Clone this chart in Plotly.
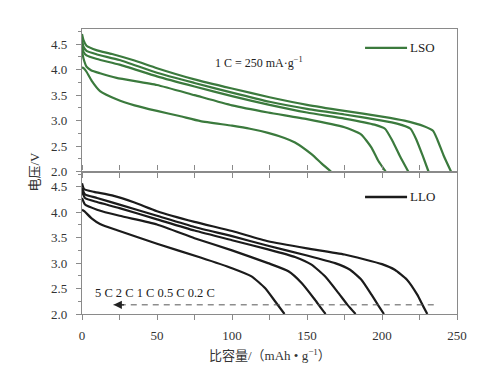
import plotly.graph_objects as go
from plotly.subplots import make_subplots

# ---------------- data ----------------
rates = ["0.2 C", "0.5 C", "1 C", "2 C", "5 C"]

# LSO (top panel)
lso_02_x = [0, 1, 3, 10, 20, 35, 50, 75, 100, 125, 150, 175, 200, 215, 228, 234, 237, 241, 246]
lso_02_v = [4.70, 4.58, 4.47, 4.38, 4.31, 4.18, 4.03, 3.81, 3.63, 3.46, 3.31, 3.19, 3.08, 3.00, 2.89, 2.80, 2.62, 2.32, 2.00]
lso_05_x = [0, 1, 3, 10, 25, 50, 75, 100, 125, 150, 175, 200, 210, 219, 223, 227, 231]
lso_05_v = [4.60, 4.45, 4.37, 4.30, 4.19, 3.94, 3.74, 3.55, 3.37, 3.23, 3.12, 3.00, 2.94, 2.84, 2.62, 2.32, 2.00]
lso_1_x = [0, 1, 3, 10, 25, 50, 75, 100, 125, 150, 175, 195, 202, 207, 212, 217.5]
lso_1_v = [4.50, 4.35, 4.28, 4.21, 4.10, 3.87, 3.67, 3.48, 3.31, 3.16, 3.04, 2.92, 2.84, 2.60, 2.30, 2.00]
lso_2_x = [0, 1, 3, 6, 12, 23, 50, 75, 100, 124, 150, 175, 186, 193, 197.5, 202.4]
lso_2_v = [4.37, 4.22, 4.06, 3.99, 3.93, 3.84, 3.70, 3.50, 3.30, 3.16, 3.03, 2.87, 2.73, 2.47, 2.21, 2.00]
lso_5_x = [0, 1.5, 3, 6.5, 12, 23, 35, 50, 65, 79, 100, 112, 124, 135, 142, 153, 160, 166]
lso_5_v = [4.05, 4.02, 3.96, 3.78, 3.58, 3.42, 3.30, 3.19, 3.09, 2.99, 2.90, 2.84, 2.76, 2.66, 2.57, 2.34, 2.15, 2.00]

# LLO (bottom panel)
llo_02_x = [0, 1.5, 8, 20, 35, 50, 75, 100, 124, 150, 175, 200, 208.5, 216.5, 223.5, 227.5, 230.2]
llo_02_v = [4.57, 4.45, 4.40, 4.33, 4.19, 4.02, 3.81, 3.63, 3.43, 3.29, 3.17, 2.98, 2.87, 2.68, 2.38, 2.15, 2.00]
llo_05_x = [0, 2, 10, 25, 50, 75, 100, 124, 150, 168.7, 178.7, 186.4, 193, 197.5, 201.3]
llo_05_v = [4.48, 4.35, 4.28, 4.15, 3.93, 3.71, 3.53, 3.34, 3.15, 3.00, 2.87, 2.67, 2.38, 2.17, 2.00]
llo_1_x = [0, 2, 10, 25, 50, 75, 100, 124, 142, 153, 162, 171, 177, 182.4]
llo_1_v = [4.41, 4.28, 4.20, 4.08, 3.86, 3.64, 3.45, 3.27, 3.12, 2.97, 2.74, 2.41, 2.18, 2.00]
llo_2_x = [0, 2, 10, 25, 50, 75, 100, 124, 137.6, 146.4, 155.3, 159, 162.4]
llo_2_v = [4.28, 4.15, 4.05, 3.93, 3.76, 3.49, 3.25, 3.00, 2.84, 2.61, 2.28, 2.13, 2.00]
llo_5_x = [0, 1.5, 6.4, 12, 23, 50, 79, 100, 113, 122, 128.7, 135]
llo_5_v = [4.05, 4.02, 3.88, 3.77, 3.65, 3.38, 3.11, 2.90, 2.74, 2.51, 2.25, 2.00]

x_tickvals = [0, 50, 100, 150, 200, 250]
x_ticktext = ["0", "50", "100", "150", "200", "250"]
x_minor = [25, 75, 125, 175, 225]
y_tickvals = [2.0, 2.5, 3.0, 3.5, 4.0, 4.5]
y_ticktext = ["2.0", "2.5", "3.0", "3.5", "4.0", "4.5"]
y_minor = [2.25, 2.75, 3.25, 3.75, 4.25, 4.75]

rate_label = "5 C 2 C 1 C 0.5 C 0.2 C"
arrow_x = [234.5, 21]
arrow_v = 2.18

GREEN = "#3b7a3d"
BLACK = "#1b1b1b"
AXIS = "#8a8a8a"
FONT = "Liberation Serif, Times New Roman, Noto Sans CJK SC, serif"

fig = make_subplots(rows=2, cols=1, shared_xaxes=False, vertical_spacing=0)

for xs, vs in [(lso_02_x, lso_02_v), (lso_05_x, lso_05_v), (lso_1_x, lso_1_v),
               (lso_2_x, lso_2_v), (lso_5_x, lso_5_v)]:
    fig.add_trace(go.Scatter(x=xs, y=vs, mode="lines", showlegend=False,
                             line=dict(color=GREEN, width=2.2, shape="spline", smoothing=0.5)),
                  row=1, col=1)
for xs, vs in [(llo_02_x, llo_02_v), (llo_05_x, llo_05_v), (llo_1_x, llo_1_v),
               (llo_2_x, llo_2_v), (llo_5_x, llo_5_v)]:
    fig.add_trace(go.Scatter(x=xs, y=vs, mode="lines", showlegend=False,
                             line=dict(color=BLACK, width=2.2, shape="spline", smoothing=0.5)),
                  row=2, col=1)

# dashed arrow line (bottom panel)
fig.add_trace(go.Scatter(x=arrow_x, y=[arrow_v, arrow_v], mode="lines", showlegend=False,
                         line=dict(color="#555555", width=1, dash="6px,5px")), row=2, col=1)
fig.add_annotation(x=arrow_x[1], y=arrow_v, ax=arrow_x[1] + 8, ay=arrow_v, xref="x2", yref="y2",
                   axref="x2", ayref="y2", showarrow=True, arrowhead=2, arrowsize=1.4,
                   arrowwidth=1.2, arrowcolor="#222222", text="")

# legend-like marks
fig.add_shape(type="line", xref="x", yref="y", x0=188.7, x1=216.7, y0=4.43, y1=4.43,
              line=dict(color=GREEN, width=2.4))
fig.add_annotation(x=217, y=4.43, xref="x", yref="y", text="LSO", showarrow=False,
                   xanchor="left", font=dict(size=13, color="#222222", family=FONT))
fig.add_shape(type="line", xref="x2", yref="y2", x0=188.7, x1=216.7, y0=4.30, y1=4.30,
              line=dict(color=BLACK, width=2.4))
fig.add_annotation(x=217, y=4.30, xref="x2", yref="y2", text="LLO", showarrow=False,
                   xanchor="left", font=dict(size=13, color="#222222", family=FONT))

fig.add_annotation(x=87, y=4.15, xref="x", yref="y", text="1 C = 250 mA·g<sup>−1</sup>",
                   showarrow=False, xanchor="left", font=dict(size=12, color="#222222", family=FONT))
fig.add_annotation(x=7.5, y=2.41, xref="x2", yref="y2", text=rate_label,
                   showarrow=False, xanchor="left", font=dict(size=12.5, color="#222222", family=FONT))

fig.add_annotation(x=0.5, y=-0.144, xref="paper", yref="paper",
                   text="比容量/（mAh • g<sup>−1</sup>）", showarrow=False,
                   yanchor="middle", font=dict(size=13, color="#333333", family=FONT))
fig.add_annotation(x=-0.128, y=0.5, xref="paper", yref="paper", text="电压/V",
                   textangle=-90, showarrow=False, xanchor="center", yanchor="middle",
                   font=dict(size=13, color="#333333", family=FONT))

xcommon = dict(range=[0, 250], tickvals=x_tickvals, ticktext=x_ticktext, showline=True,
               linecolor=AXIS, linewidth=1.2, ticks="outside", ticklen=5, tickcolor=AXIS,
               tickwidth=1, showgrid=False, zeroline=False,
               minor=dict(tickvals=x_minor, ticks="outside", ticklen=5, tickcolor=AXIS,
                          showgrid=False),
               tickfont=dict(size=13, color="#333333", family=FONT))
fig.update_xaxes(**xcommon, mirror=True, showticklabels=False, row=1, col=1)
fig.update_xaxes(**xcommon, mirror="ticks", showticklabels=True, ticklabelstandoff=4, row=2, col=1)

ycommon = dict(range=[2.0, 4.8], tickvals=y_tickvals, ticktext=y_ticktext, showline=True,
               linecolor=AXIS, linewidth=1.2, ticks="outside", ticklen=5, tickcolor=AXIS,
               tickwidth=1, mirror=True, showgrid=False, zeroline=False,
               minor=dict(tickvals=y_minor, ticks="outside",
                          ticklen=3, tickcolor=AXIS, showgrid=False),
               ticklabelstandoff=6,
               tickfont=dict(size=13, color="#333333", family=FONT))
fig.update_yaxes(**ycommon, row=1, col=1)
fig.update_yaxes(**ycommon, row=2, col=1)

# page body adds an 8px offset at top-left; plot area ends up at x 82-457, y 29-314
fig.update_layout(width=479, height=361, margin=dict(l=74, r=30, t=21, b=55),
                  paper_bgcolor="white", plot_bgcolor="white", showlegend=False)

fig.write_html("out.html")
